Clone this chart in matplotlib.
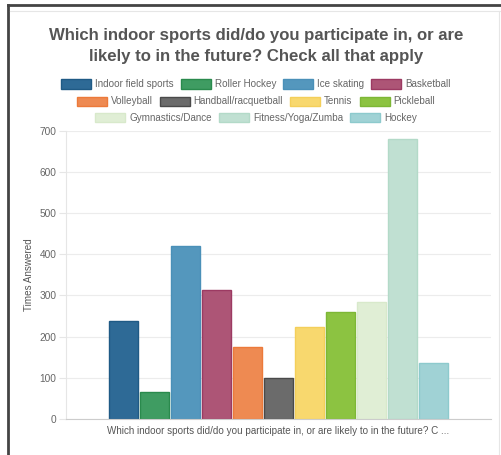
import matplotlib

matplotlib.use("Agg")
import matplotlib.pyplot as plt
from matplotlib.patches import Rectangle
from matplotlib.lines import Line2D

plt.rcParams["font.family"] = ["Liberation Sans", "DejaVu Sans"]

sports = [
    "Indoor field sports", "Roller Hockey", "Ice skating", "Basketball",
    "Volleyball", "Handball/racquetball", "Tennis", "Pickleball",
    "Gymnastics/Dance", "Fitness/Yoga/Zumba", "Hockey",
]
answers = [237, 66, 419, 314, 175, 99, 224, 259, 283, 679, 135]
face_colors = [
    "#2e6a96", "#3f9c62", "#5497bd", "#ad5576", "#ee8a52", "#6b6b6b",
    "#f8d86e", "#8cc341", "#e0eed5", "#c0e0d2", "#a0d2d5",
]
edge_colors = [
    "#1f5a85", "#2a8a4d", "#4a90b8", "#9c3a62", "#ec7a3a", "#4a4a4a",
    "#f4cf5a", "#7db736", "#d8e9cb", "#b3dac8", "#8dcacd",
]
y_ticks = [0, 100, 200, 300, 400, 500, 600, 700]
title = "Which indoor sports did/do you participate in, or are\nlikely to in the future? Check all that apply"
x_label = "Which indoor sports did/do you participate in, or are likely to in the future? C ..."

fig = plt.figure(figsize=(5.01, 4.55), dpi=100)
W, H = 501, 455

# outer frame: dark edge on top/left, light inner border
fig.add_artist(Line2D([8 / W, 8 / W], [0, 1 - 5 / H], color="#444444", lw=2, transform=fig.transFigure))
fig.add_artist(Line2D([8 / W, 1], [1 - 5 / H, 1 - 5 / H], color="#444444", lw=2, transform=fig.transFigure))
fig.add_artist(Line2D([10 / W, 1], [1 - 11 / H, 1 - 11 / H], color="#e6e6e6", lw=0.8, transform=fig.transFigure))
fig.add_artist(Line2D([499 / W, 499 / W], [0, 1 - 11 / H], color="#e6e6e6", lw=0.8, transform=fig.transFigure))

fig.text(256 / W, 1 - 46 / H, title, ha="center", va="center", fontsize=12.1,
         fontweight="bold", color="#555555", linespacing=1.42)

ax = fig.add_axes([66 / W, 1 - 419 / H, (491 - 66) / W, (419 - 130.7) / H])
positions = list(range(len(sports)))
ax.bar(positions, answers, width=0.93, color=face_colors, edgecolor=edge_colors, linewidth=1.0)
ax.set_xlim(-1.86, 11.86)
ax.set_ylim(0, 700)
ax.set_yticks(y_ticks)
ax.set_xticks([])
ax.tick_params(axis="y", length=5, color="#e6e6e6", labelsize=7.3, labelcolor="#666666", pad=2)
ax.grid(axis="y", color="#ececec", linewidth=0.8)
ax.set_axisbelow(True)
for side in ["top", "right"]:
    ax.spines[side].set_visible(False)
ax.spines["left"].set_color("#e6e6e6")
ax.spines["bottom"].set_color("#cccccc")
ax.set_ylabel("Times Answered", fontsize=7.1, color="#555555", labelpad=4)
ax.set_xlabel(x_label, fontsize=7.1, color="#555555", labelpad=5)

# legend rows, centered
rows = [sports[0:4], sports[4:8], sports[8:11]]
row_y = [84, 101, 118]
sw_w, sw_h, gap1, gap2 = 30, 9, 4, 7
renderer = fig.canvas.get_renderer()
idx = 0
for row, y in zip(rows, row_y):
    texts = []
    widths = []
    for name in row:
        t = fig.text(0, 0, name, fontsize=7.1, color="#666666", va="center")
        widths.append(t.get_window_extent(renderer).width)
        texts.append(t)
    total = sum(sw_w + gap1 + w for w in widths) + gap2 * (len(row) - 1)
    x = 256 - total / 2
    for t, w in zip(texts, widths):
        fig.add_artist(Rectangle((x / W, 1 - (y + sw_h / 2) / H), sw_w / W, sw_h / H,
                                 facecolor=face_colors[idx], edgecolor=edge_colors[idx],
                                 lw=1, transform=fig.transFigure))
        t.set_position(((x + sw_w + gap1) / W, 1 - y / H))
        x += sw_w + gap1 + w + gap2
        idx += 1

fig.savefig("out.png", dpi=100)
